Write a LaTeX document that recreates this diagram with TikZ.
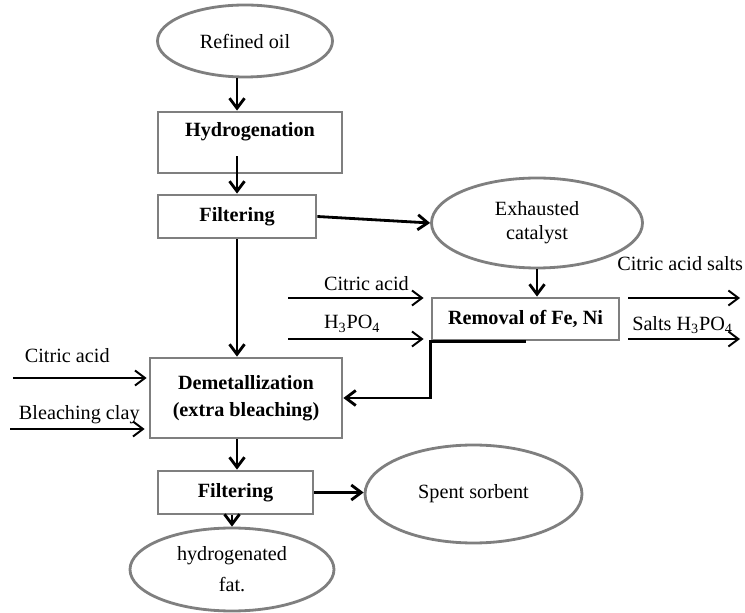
\documentclass[tikz,border=0pt]{standalone}
\usepackage{fontspec}
\setmainfont{Liberation Serif}
\usetikzlibrary{arrows.meta,positioning,calc,shapes.geometric}
\definecolor{cEdge}{HTML}{7F7F7F}
\definecolor{cFlow}{HTML}{000000}

\begin{document}
\begin{tikzpicture}[
  font=\fontsize{11.5}{13.5}\selectfont,
  flow/.style={
    -{Straight Barb[length=2mm, width=3mm]}, draw=cFlow, line width=1.6pt,
  },
  feed/.style={
    -{Straight Barb[length=2mm, width=3mm]}, draw=cFlow, line width=1.1pt,
  },
  stepbox/.style={
    draw=cEdge, line width=1.6pt, fill=white, align=center,
    inner sep=2pt, font=\fontsize{11.5}{13.5}\selectfont\bfseries,
  },
  matbox/.style={
    ellipse, draw=cEdge, line width=1.6pt, fill=white, align=center,
    inner sep=0pt,
  },
]
\useasboundingbox (0,0) rectangle (14.9,12.24);

% Main column x (arrows run off-centre of the boxes).
\coordinate (spine) at (4.74,0);

% --- main line ---
\node[matbox, minimum width=3.5cm, minimum height=1.44cm] (oil)
  at (4.90,11.42) {Refined oil};
\node[stepbox, minimum width=3.68cm, inner sep=0pt,
      text height=0.5cm, text depth=0.72cm] (hydro)
  at (5.00,9.39) {Hydrogenation};
\node[stepbox, minimum width=3.16cm, minimum height=0.86cm] (filt1)
  at (4.74,7.91) {Filtering};
\node[stepbox, minimum width=3.84cm, minimum height=1.60cm] (demet)
  at (4.92,4.28) {Demetallization\\[2pt](extra bleaching)};
\node[stepbox, minimum width=3.10cm, minimum height=0.86cm] (filt2)
  at (4.71,2.39) {Filtering};
\node[matbox, minimum width=4.08cm, minimum height=1.66cm] (fat)
  at (4.64,0.85) {hydrogenated\\[4pt]fat.};

% --- catalyst branch ---
\node[matbox, minimum width=4.22cm, minimum height=1.80cm] (cat)
  at (10.74,7.78) {Exhausted\\catalyst};
\node[stepbox, minimum width=3.74cm, minimum height=0.84cm] (remov)
  at (10.51,5.86) {Removal of Fe, Ni};
\node[matbox, minimum width=4.34cm, minimum height=1.96cm] (spent)
  at (9.47,2.36) {Spent sorbent};

% Free ends of the feed and product lines.
\coordinate (cin) at (5.76,6.28);
\coordinate (hin) at (5.76,5.46);
\coordinate (cout) at (14.80,6.28);
\coordinate (hout) at (14.80,5.46);
\coordinate (clin) at (0.26,4.68);
\coordinate (blin) at (0.20,3.66);

\draw[flow] (spine |- oil.south) -- (spine |- hydro.north);
\draw[flow] ($(spine |- hydro.south)+(0,0.36)$) -- (spine |- filt1.north);
\draw[flow] (filt1.south) -- (filt1.south |- demet.north);
\draw[flow] (spine |- demet.south) -- (spine |- filt2.north);
\draw[flow] (filt2.south -| fat.north) -- (fat.north);
\draw[flow] (filt1.east) -- (cat.west);
\draw[flow] (filt2.east) -- (filt2.east -| spent.west);
\draw[flow] (cat.south) -- (cat.south |- remov.north);
\draw[flow] (remov.south) -- (remov.south west) |- (demet.east);

\draw[feed, shorten >=0.14cm] (cin) -- (cin -| remov.west)
  node[pos=0.55, above] {Citric acid};
\draw[feed, shorten >=0.14cm] (hin) -- (hin -| remov.west)
  node[pos=0.45, above] {H\textsubscript{3}PO\textsubscript{4}};
\draw[feed, shorten <=0.16cm] (cout -| remov.east) -- (cout)
  node[pos=0.5, above=0.40cm] {Citric acid salts};
\draw[feed, shorten <=0.16cm] (hout -| remov.east) -- (hout)
  node[pos=0.52, above=-1pt] {Salts H\textsubscript{3}PO\textsubscript{4}};
\draw[feed, shorten >=0.04cm] (clin) -- (clin -| demet.west)
  node[pos=0.4, above=0.16cm] {Citric acid};
\draw[feed, shorten >=0.08cm] (blin) -- (blin -| demet.west)
  node[pos=0.5, above=-1pt] {Bleaching clay};

\end{tikzpicture}
\end{document}
